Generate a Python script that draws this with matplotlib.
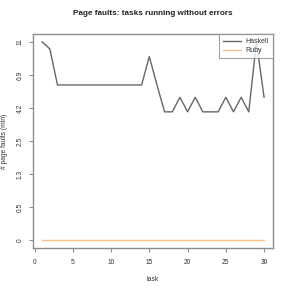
import numpy as np
import matplotlib
matplotlib.use("Agg")
import matplotlib.pyplot as plt

plt.rcParams['font.family'] = ['Liberation Sans', 'DejaVu Sans']

# data
tasks = list(range(1, 31))
haskell = [11, 10, 6, 6, 6, 6, 6, 6, 6, 6, 6, 6, 6, 6, 9,
           6, 4, 4, 5, 4, 5, 4, 4, 4, 5, 4, 5, 4, 11, 5]
ruby = [0] * 30
ytick_labels = ["0", "0.5", "1.3", "2.5", "4.2", "6.9", "11"]

text_col = "#333333"
spine_col = "#8c8c8c"

fig = plt.figure(figsize=(2.91, 2.91), dpi=100)
ax = fig.add_axes([0.1144, 0.1467, 0.8236, 0.7365])

ax.set_yscale('function', functions=(np.log1p, np.expm1))

ax.plot(tasks, haskell, color="#666666", lw=1.0, label="Haskell")
ax.plot(tasks, ruby, color="#ffbf80", lw=1.0, label="Ruby")

top = np.log(12)
ax.set_xlim(-0.16, 31.16)
ax.set_ylim(np.expm1(-0.04 * top), np.expm1(1.04 * top))

ax.set_xticks([0, 5, 10, 15, 20, 25, 30])
yt = [np.expm1(k * top / 6) for k in range(7)]
ax.set_yticks(yt)
ax.set_yticklabels(ytick_labels, rotation=90, va="center")
ax.minorticks_off()

ax.tick_params(axis="both", labelsize=4.8, colors=spine_col, labelcolor=text_col,
               length=3, width=0.8)
ax.tick_params(axis="x", pad=5)
ax.tick_params(axis="y", pad=4)

for s in ax.spines.values():
    s.set_color(spine_col)
    s.set_linewidth(1.0)

ax.set_xlabel("task", fontsize=4.8, color=text_col, labelpad=7)
ax.set_ylabel("# page faults (min)", fontsize=4.8, color=text_col, labelpad=6)
ax.set_title("Page faults: tasks running without errors", fontsize=5.9,
             fontweight="bold", color="#222222", pad=14)

leg = ax.legend(loc="upper right", fontsize=5, frameon=True, fancybox=False,
                borderaxespad=0, handlelength=2.6, handletextpad=0.6,
                labelcolor=text_col, borderpad=0.6, labelspacing=0.3)
leg.get_frame().set_edgecolor(spine_col)
leg.get_frame().set_linewidth(0.8)

fig.savefig("out.png", dpi=100)
